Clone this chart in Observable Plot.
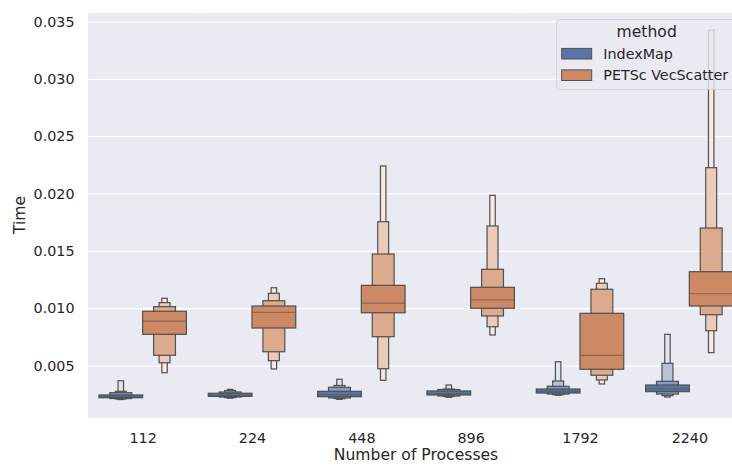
<!DOCTYPE html>
<html><head><meta charset="utf-8">
<script src="https://cdn.jsdelivr.net/npm/d3@7"></script>
<script src="https://cdn.jsdelivr.net/npm/@observablehq/plot@0.6"></script>
<style>
html,body{margin:0;padding:0;background:#fff;overflow:hidden;width:732px;height:467px;}
#chart{width:732px;height:467px;overflow:hidden;}
</style></head><body><div id="chart"></div>
<script>
const categories = ["112","224","448","896","1792","2240"];
const methods = ["IndexMap","PETSc VecScatter"];
const yTicks = [0.005,0.010,0.015,0.020,0.025,0.030,0.035];

// letter values per category, levels 1..4 (1 = quartile box)
const indexMapLo = [
  [0.00219,0.00212,0.00208,0.00203],
  [0.00231,0.00225,0.00220,0.00215],
  [0.00228,0.00217,0.00211,0.00205],
  [0.00243,0.00234,0.00229,0.00223],
  [0.00260,0.00251,0.00245,0.00240],
  [0.00272,0.00251,0.00237,0.00225]
];
const indexMapHi = [
  [0.00243,0.00263,0.00275,0.00367],
  [0.00258,0.00269,0.00282,0.00292],
  [0.00275,0.00310,0.00326,0.00380],
  [0.00278,0.00291,0.00295,0.00330],
  [0.00295,0.00319,0.00365,0.00533],
  [0.00330,0.00362,0.00519,0.00772]
];
const indexMapMedian = [0.00230,0.00244,0.00251,0.00260,0.00278,0.00301];

const petscLo = [
  [0.00772,0.00589,0.00524,0.00437],
  [0.00827,0.00620,0.00542,0.00470],
  [0.00960,0.00751,0.00472,0.00371],
  [0.00999,0.00932,0.00838,0.00766],
  [0.00467,0.00415,0.00374,0.00339],
  [0.01019,0.00943,0.00803,0.00612]
];
const petscHi = [
  [0.00973,0.01013,0.01048,0.01086],
  [0.01019,0.01065,0.01130,0.01178],
  [0.01199,0.01472,0.01754,0.02240],
  [0.01182,0.01339,0.01717,0.01984],
  [0.00955,0.01165,0.01217,0.01257],
  [0.01318,0.01699,0.02225,0.03426]
];
const petscMedian = [0.00891,0.00967,0.01048,0.01077,0.00592,0.01130];

const levelColors = {
  "IndexMap": ["#5875a4","#889dbe","#b7c4d8","#dfe5ee"],
  "PETSc VecScatter": ["#cc8964","#dcab8d","#ebcbb9","#f5e9e2"]
};
const levelWidth = [1, 0.5, 0.25, 0.125];

const series = {
  "IndexMap": {lo: indexMapLo, hi: indexMapHi, med: indexMapMedian},
  "PETSc VecScatter": {lo: petscLo, hi: petscHi, med: petscMedian}
};

const rows = [];
const medRows = [];
for (const m of methods) {
  categories.forEach((c, i) => {
    for (let k = 0; k < 4; k++) {
      rows.push({method: m, category: c, level: k, lo: series[m].lo[i][k], hi: series[m].hi[i][k]});
    }
    medRows.push({method: m, category: c, median: series[m].med[i]});
  });
}

const W = 744, H = 467, ML = 88, MR = 0, MT = 13, MB = 50;
const step = (W - ML - MR) / categories.length;
const bw = step / 2.5;
const edge = "#4f4f4f";

const marks = [
  Plot.frame({fill: "#eaeaf2", stroke: "#eaeaf2", strokeWidth: 1}),
  Plot.gridY(yTicks, {stroke: "#ffffff", strokeOpacity: 1, strokeWidth: 1.25})
];
for (let k = 3; k >= 0; k--) {
  const inset = bw * (1 - levelWidth[k]) / 2;
  marks.push(Plot.barY(rows.filter(d => d.level === k), {
    fx: "category", x: "method", y1: "lo", y2: "hi",
    fill: d => levelColors[d.method][k],
    stroke: edge, strokeWidth: 1.2,
    insetLeft: inset, insetRight: inset
  }));
}
marks.push(Plot.tickY(medRows, {fx: "category", x: "method", y: "median", stroke: edge, strokeOpacity: 0.55, strokeWidth: 1.2}));
marks.push(Plot.axisY({ticks: yTicks, tickFormat: d3.format(".3f"), tickSize: 0, tickPadding: 14, label: null, fontSize: 14.3, color: "#262626"}));
marks.push(Plot.axisFx({anchor: "bottom", tickSize: 0, tickPadding: 15, label: null, fontSize: 14.3, color: "#262626"}));

const plot = Plot.plot({
  width: W, height: H,
  marginLeft: ML, marginRight: MR, marginTop: MT, marginBottom: MB,
  style: {fontFamily: "DejaVu Sans", fontSize: "14.3px", color: "#262626", background: "white", maxWidth: "none"},
  fx: {domain: categories, padding: 0, round: false, label: null, axis: null},
  x: {domain: methods, paddingInner: 0, paddingOuter: 0.25, round: false, axis: null},
  y: {domain: [0.000509, 0.035741], label: null},
  color: {type: "identity"},
  marks
});
document.getElementById("chart").appendChild(plot);

const svg = d3.select(plot);
svg.append("text").attr("transform", `translate(25,${(MT + H - MB) / 2}) rotate(-90)`)
  .attr("text-anchor", "middle").attr("fill", "#262626").attr("font-size", "15.6px").text("Time");
svg.append("text").attr("x", (ML + W - MR) / 2).attr("y", 459.5)
  .attr("text-anchor", "middle").attr("fill", "#262626").attr("font-size", "15.6px").text("Number of Processes");

// legend
const lg = svg.append("g");
const lx = 556.7, ly = 19.5, lw = 180, lh = 70;
lg.append("rect").attr("x", lx).attr("y", ly).attr("width", lw).attr("height", lh).attr("rx", 3)
  .attr("fill", "#eaeaf2").attr("fill-opacity", 0.8).attr("stroke", "#cccccc").attr("stroke-opacity", 0.8).attr("stroke-width", 1);
lg.append("text").attr("x", lx + lw / 2).attr("y", 37.3).attr("text-anchor", "middle")
  .attr("fill", "#262626").attr("font-size", "15.6px").text("method");
methods.forEach((m, i) => {
  const cy = 53.7 + i * 21.5;
  lg.append("rect").attr("x", 561.7).attr("y", cy - 5.3).attr("width", 30).attr("height", 10.6)
    .attr("fill", levelColors[m][0]).attr("stroke", edge).attr("stroke-width", 1);
  lg.append("text").attr("x", 603.3).attr("y", cy).attr("dy", "0.36em").attr("text-anchor", "start")
    .attr("fill", "#262626").attr("font-size", "14.3px").text(m);
});
</script></body></html>
